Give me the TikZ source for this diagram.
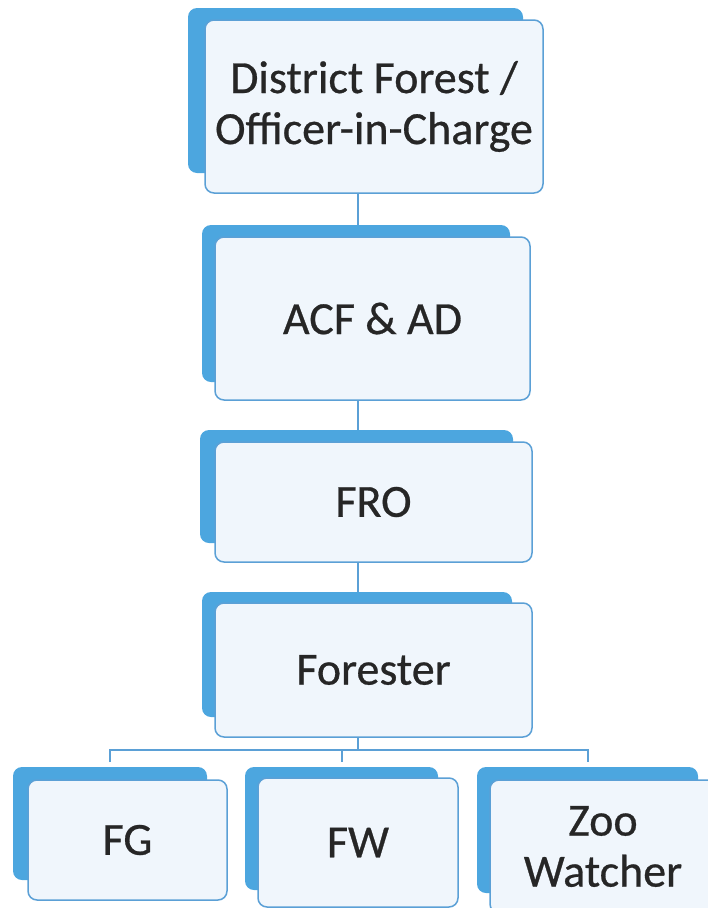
\documentclass[tikz,border=0pt]{standalone}
\usepackage{fontspec}
\setmainfont{Carlito}[FakeBold=0.6]
\usetikzlibrary{backgrounds,calc}
\definecolor{backblue}{RGB}{76,166,223}
\definecolor{edgeblue}{RGB}{91,160,214}
\definecolor{frontfill}{RGB}{240,246,252}
\definecolor{textgray}{RGB}{38,38,38}
\tikzset{
  frontbox/.style={draw=edgeblue, line width=1.5pt, fill=frontfill, rounded corners=9pt,
    inner sep=0pt, align=center, text=textgray,
    font=\fontsize{46}{51}\selectfont},
  backbox/.style={fill=backblue, draw=none, rounded corners=9pt, inner sep=0pt},
  conn/.style={draw=edgeblue, line width=2.2pt},
}
% #1 name, #2 front x1, #3 y1, #4 x2, #5 y2, #6 back x1, #7 y1, #8 x2, #9 y2
\newcommand{\orgbox}[9]{%
  \node[backbox, minimum width={(#8-#6)*1pt}, minimum height={(#9-#7)*1pt}]
    (#1back) at ({(#6+#8)/2},{(#7+#9)/2}) {};
  \node[frontbox, minimum width={(#4-#2)*1pt}, minimum height={(#5-#3)*1pt}]
    (#1) at ({(#2+#4)/2},{(#3+#5)/2})}
\begin{document}
\begin{tikzpicture}[x=1pt,y=-1pt]
\useasboundingbox (0,0) rectangle (708,908);
\orgbox{dfo}{205}{20}{543}{193}{188}{8}{523}{173} {District Forest /\\Officer-in-Charge};
\orgbox{acf}{215}{237}{530}{400}{202}{225}{510}{382} {ACF \& AD};
\orgbox{fro}{215}{442}{532}{562}{200}{430}{513}{543} {FRO};
\orgbox{forester}{215}{603}{532}{737}{202}{592}{512}{717} {Forester};
\orgbox{fg}{28}{780}{227}{900}{13}{767}{207}{880} {FG};
\orgbox{fw}{258}{778}{458}{907}{245}{767}{438}{890} {FW};
\orgbox{zoo}{490}{780}{716}{913}{477}{767}{698}{893} {Zoo\\Watcher};
\coordinate (trunk) at (358,0);
\coordinate (bar) at (358,750);
\coordinate (fgdrop) at (110,762);
\coordinate (fwdrop) at (342,762);
\coordinate (zoodrop) at (588,762);
\begin{pgfonlayer}{background}
\draw[conn] (dfo.south -| trunk) -- (acf.north -| trunk);
\draw[conn] (acf.south -| trunk) -- (fro.north -| trunk);
\draw[conn] (fro.south -| trunk) -- (forester.north -| trunk);
\draw[conn] (forester.south -| trunk) -- (bar);
\draw[conn] (fgdrop) -- (fgdrop |- bar) -- (zoodrop |- bar) -- (zoodrop);
\draw[conn] (fwdrop |- bar) -- (fwdrop);
\end{pgfonlayer}
\end{tikzpicture}
\end{document}
